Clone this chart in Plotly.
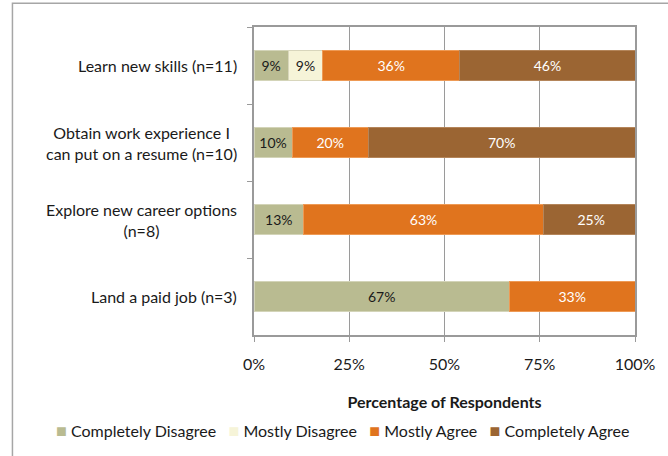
import plotly.graph_objects as go

# Survey items (top to bottom) and response shares in percent
categories = [
    "Learn new skills (n=11)",
    "Obtain work experience I<br>can put on a resume (n=10)",
    "Explore new career options<br>(n=8)",
    "Land a paid job (n=3)",
]
series_names = ["Completely Disagree", "Mostly Disagree", "Mostly Agree", "Completely Agree"]
completely_disagree = [9, 10, 13, 67]
mostly_disagree = [9, 0, 0, 0]
mostly_agree = [36, 20, 63, 33]
completely_agree = [46, 70, 25, 0]
x_ticks = [0, 25, 50, 75, 100]
x_tick_labels = ["0%", "25%", "50%", "75%", "100%"]

values = [completely_disagree, mostly_disagree, mostly_agree, completely_agree]
colors = ["#B9BB91", "#F6F4D8", "#E0741E", "#9B6533"]
edge_colors = ["#D3D4B8", "#D8D6BC", "#EE9A55", "#B4855A"]
text_colors = ["#1A1A1A", "#1A1A1A", "#FFFFFF", "#FFFFFF"]

FONT = "Lato"
LABEL_SIZE = 16

fig = go.Figure()
for name, vals, col, edge, tcol in zip(series_names, values, colors, edge_colors, text_colors):
    fig.add_trace(go.Bar(
        name=name,
        y=categories,
        x=vals,
        orientation="h",
        marker=dict(color=col, line=dict(color=edge, width=1)),
        text=[f"{v}%" if v > 0 else "" for v in vals],
        textposition="inside",
        insidetextanchor="middle",
        constraintext="none",
        textfont=dict(family=FONT, size=14, color=tcol),
        showlegend=False,
    ))

# Category labels: right-aligned block, lines centred within it
annotations = []
for cat in categories:
    annotations.append(dict(
        x=0, xref="paper", y=cat, yref="y",
        text=cat, showarrow=False, xanchor="right", yanchor="middle",
        align="center", xshift=-15,
        font=dict(family=FONT, size=LABEL_SIZE, color="#1A1A1A"),
    ))

# Legend row with coloured square markers
legend_parts = []
for name, col in zip(series_names, colors):
    legend_parts.append(f"<span style='color:{col};font-size:18px'>■</span>&nbsp;{name}")
annotations.append(dict(
    x=0.2335, xref="paper", y=-0.308, yref="paper",
    text="&nbsp;&nbsp;&nbsp;".join(legend_parts), showarrow=False,
    xanchor="center", yanchor="middle",
    font=dict(family=FONT, size=LABEL_SIZE, color="#1A1A1A"),
))

fig.update_layout(
    width=668, height=456,
    margin=dict(l=254, r=30, t=27, b=121),
    barmode="stack",
    bargap=0.6,
    plot_bgcolor="white",
    paper_bgcolor="white",
    font=dict(family=FONT, size=LABEL_SIZE, color="#1A1A1A"),
    annotations=annotations,
    shapes=[dict(
        type="rect", xref="paper", yref="paper",
        x0=-0.634, x1=1.3, y0=-0.6, y1=1.077,
        line=dict(color="#A6A6A6", width=1.5), fillcolor="rgba(0,0,0,0)",
        layer="below",
    )],
)

fig.update_xaxes(
    range=[0, 100],
    tickvals=x_ticks, ticktext=x_tick_labels,
    showgrid=True, gridcolor="#9A9A9A", gridwidth=1,
    showline=True, linecolor="#9A9A9A", linewidth=1.5, mirror=True,
    ticks="outside", ticklen=5, tickcolor="#9A9A9A",
    ticklabelstandoff=9,
    tickfont=dict(family=FONT, size=LABEL_SIZE, color="#1A1A1A"),
    title=dict(text="<b>Percentage of Respondents</b>", standoff=25,
               font=dict(family=FONT, size=LABEL_SIZE, color="#1A1A1A")),
    zeroline=False,
)
fig.update_yaxes(
    autorange="reversed",
    showticklabels=False,
    showline=True, linecolor="#9A9A9A", linewidth=1.5, mirror=True,
    ticks="outside", ticklen=5, tickcolor="#9A9A9A", tickson="boundaries",
    showgrid=False,
)

fig.write_html("out.html")
